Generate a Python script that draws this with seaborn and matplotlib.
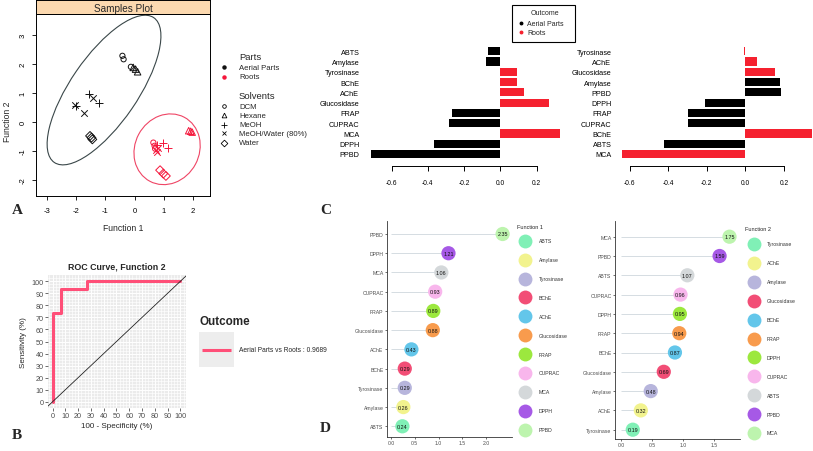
import numpy as np
import pandas as pd
import matplotlib
matplotlib.use("Agg")
import matplotlib.pyplot as plt
import seaborn as sns
from matplotlib.patches import Ellipse, Rectangle

sns.set_theme(style="white")
plt.rcParams['font.family'] = ['Liberation Sans', 'DejaVu Sans']

# ---------------- data ----------------
# Panel A: samples plot
a_parts = ['Aerial Parts'] * 15 + ['Roots'] * 15
a_solvents = (['DCM'] * 3 + ['Hexane'] * 3 + ['MeOH'] * 3 +
              ['MeOH/Water (80%)'] * 3 + ['Water'] * 3) * 2
a_f1 = [-0.42, -0.38, -0.13, -0.05, 0.03, 0.10, -1.56, -1.21, -2.00, -2.03, -1.75, -1.43, -1.53, -1.48, -1.45,
        0.64, 0.68, 0.70, 1.85, 1.92, 1.97, 0.98, 1.15, 0.76, 0.73, 0.76, 0.80, 0.87, 0.98, 1.07]
a_f2 = [2.28, 2.16, 1.90, 1.88, 1.82, 1.73, 0.97, 0.66, 0.55, 0.60, 0.30, 0.83, -0.48, -0.54, -0.60,
        -0.71, -0.82, -0.92, -0.30, -0.32, -0.35, -0.73, -0.88, -0.80, -0.95, -1.05, -0.90, -1.66, -1.78, -1.86]
a_solvent_order = ['DCM', 'Hexane', 'MeOH', 'MeOH/Water (80%)', 'Water']

# Panel B: ROC curve
roc_fpr = [0, 0, 6.7, 6.7, 26.7, 26.7, 100]
roc_tpr = [0, 73.3, 73.3, 93.3, 93.3, 100, 100]
roc_label = 'Aerial Parts vs Roots : 0.9689'

# Panel C: coefficients
c1_cats = ['ABTS', 'Amylase', 'Tyrosinase', 'BChE', 'AChE', 'Glucosidase', 'FRAP', 'CUPRAC', 'MCA', 'DPPH', 'PPBD']
c1_vals = [-0.070, -0.079, 0.092, 0.092, 0.133, 0.270, -0.269, -0.282, 0.330, -0.366, -0.713]
c1_out = ['Aerial Parts', 'Aerial Parts', 'Roots', 'Roots', 'Roots', 'Roots',
          'Aerial Parts', 'Aerial Parts', 'Roots', 'Aerial Parts', 'Aerial Parts']
c2_cats = ['Tyrosinase', 'AChE', 'Glucosidase', 'Amylase', 'PPBD', 'DPPH', 'FRAP', 'CUPRAC', 'BChE', 'ABTS', 'MCA']
c2_vals = [-0.007, 0.062, 0.154, 0.180, 0.183, -0.211, -0.296, -0.296, 0.344, -0.420, -0.638]
c2_out = ['Roots', 'Roots', 'Roots', 'Aerial Parts', 'Aerial Parts', 'Aerial Parts',
          'Aerial Parts', 'Aerial Parts', 'Roots', 'Aerial Parts', 'Roots']

# Panel D: importance
d1_cats = ['PPBD', 'DPPH', 'MCA', 'CUPRAC', 'FRAP', 'Glucosidase', 'AChE', 'BChE', 'Tyrosinase', 'Amylase', 'ABTS']
d1_vals = [2.35, 1.21, 1.06, 0.93, 0.89, 0.88, 0.43, 0.29, 0.29, 0.26, 0.24]
d1_labels = ['2.35', '1.21', '1.06', '0.93', '0.89', '0.88', '0.43', '0.29', '0.29', '0.26', '0.24']
d2_cats = ['MCA', 'PPBD', 'ABTS', 'CUPRAC', 'DPPH', 'FRAP', 'BChE', 'Glucosidase', 'Amylase', 'AChE', 'Tyrosinase']
d2_vals = [1.75, 1.59, 1.07, 0.96, 0.95, 0.94, 0.87, 0.69, 0.48, 0.32, 0.19]
d2_labels = ['1.75', '1.59', '1.07', '0.96', '0.95', '0.94', '0.87', '0.69', '0.48', '0.32', '0.19']
rank_colors = ['#80F0B6', '#F2F38E', '#B7B5DC', '#F24E76', '#63C6EA', '#F89B4D',
               '#9CE83E', '#F8B6EC', '#D4D8DA', '#A659E6', '#BDF4AE']

# ---------------- figure ----------------
W, H = 813, 452
fig = plt.figure(figsize=(W / 100, H / 100), dpi=100)
fig.patch.set_facecolor('white')


def add_ax(l, t, r, b, **kw):
    return fig.add_axes([l / W, 1 - b / H, (r - l) / W, (b - t) / H], **kw)


BLACK = '#000000'
RED = '#F5212F'
PART_COL = {'Aerial Parts': '#111111', 'Roots': '#F5163B'}
MARK = {'DCM': 'o', 'Hexane': '^', 'MeOH': '+', 'MeOH/Water (80%)': 'x', 'Water': 'D'}
MSIZE = {'DCM': 14, 'Hexane': 22, 'MeOH': 30, 'MeOH/Water (80%)': 22, 'Water': 20}

# ---- Panel A ----
dfa = pd.DataFrame({'f1': a_f1, 'f2': a_f2, 'part': a_parts, 'solv': a_solvents})
axA = add_ax(36, 15, 210, 197)
axA.set_facecolor('white')
for (p, s), g in dfa.groupby(['part', 'solv']):
    c = PART_COL[p]
    sns.scatterplot(data=g, x='f1', y='f2', marker=MARK[s], s=MSIZE[s], ax=axA, color=c, legend=False)
    coll = axA.collections[-1]
    coll.set_edgecolor(c)
    if MARK[s] in ('o', '^', 'D'):
        coll.set_facecolor('none')
    else:
        coll.set_facecolor(c)
    coll.set_linewidth(0.7)
axA.add_patch(Ellipse((-1.05, 1.1), width=2 * 3.02, height=2 * 1.15, angle=55.7,
                      fill=False, edgecolor='#3A4749', lw=0.8))
axA.add_patch(Ellipse((1.11, -0.94), width=2 * 1.25, height=2 * 1.1, angle=62,
                      fill=False, edgecolor='#EF4565', lw=0.8))
axA.set_xlim(-3.38, 2.58)
axA.set_ylim(-2.55, 3.72)
axA.set_xticks([-3, -2, -1, 0, 1, 2])
axA.set_yticks([-2, -1, 0, 1, 2, 3])
axA.set_xticklabels(['-3', '-2', '-1', '0', '1', '2'])
axA.set_yticklabels(['-2', '-1', '0', '1', '2', '3'], rotation=90, va='center')
axA.tick_params(axis='both', direction='out', length=3, width=0.6, labelsize=5.5, colors='black')
axA.tick_params(axis='x', pad=5)
axA.tick_params(axis='y', pad=4)
axA.xaxis.set_ticks_position('bottom')
axA.yaxis.set_ticks_position('left')
for sp in axA.spines.values():
    sp.set_color('black'); sp.set_linewidth(0.7)
axA.set_xlabel('')
axA.set_ylabel('')

stripA = add_ax(36, 1, 210, 15)
stripA.set_facecolor('#FCD9B0')
stripA.set_xticks([]); stripA.set_yticks([])
for sp in stripA.spines.values():
    sp.set_color('black'); sp.set_linewidth(0.7)
stripA.text(0.5, 0.45, 'Samples Plot', ha='center', va='center', fontsize=7.2, transform=stripA.transAxes)

# ---- Panel B ----
axB = add_ax(48, 276, 186, 409)
axB.set_facecolor('#EBEBEB')
sns.lineplot(x=roc_fpr, y=roc_tpr, sort=False, estimator=None, ax=axB, color='#FF4F78', lw=2.2)
axB.axline((0, 0), (100, 100), color='#222222', lw=0.6)
axB.set_xlim(-3.6, 104.4)
axB.set_ylim(-5.2, 105.2)
ticks10 = list(range(0, 101, 10))
axB.set_xticks(ticks10)
axB.set_yticks(ticks10)
axB.set_xticks(np.arange(-2.5, 105, 2.5), minor=True)
axB.set_yticks(np.arange(-5, 105, 2.5), minor=True)
axB.grid(True, which='major', color='white', lw=0.7)
axB.grid(True, which='minor', color='white', lw=0.45)
axB.tick_params(axis='both', which='major', length=2, width=0.5, color='#333333',
                labelsize=5.2, labelcolor='#4D4D4D', pad=1, direction='out')
axB.tick_params(axis='both', which='minor', length=0)
axB.xaxis.set_ticks_position('bottom')
axB.yaxis.set_ticks_position('left')
for sp in axB.spines.values():
    sp.set_visible(False)
axB.set_xlabel('')
axB.set_ylabel('')


# ---- Panel C ----
def bar_panel(l, r, cats, vals, outs, x0px, ppu):
    ax = add_ax(l, 40, r, 167)
    df = pd.DataFrame({'cat': cats, 'val': vals, 'out': outs})
    sns.barplot(data=df, x='val', y='cat', hue='out', order=cats, orient='h', dodge=False,
                palette={'Aerial Parts': BLACK, 'Roots': RED}, width=0.8, legend=False, ax=ax,
                edgecolor='none', saturation=1)
    ax.set_xlim((l - x0px) / ppu, (r - x0px) / ppu)
    ax.set_ylim(11.17, -1.2)
    for s in ['top', 'right', 'left']:
        ax.spines[s].set_visible(False)
    ax.spines['bottom'].set_bounds(-0.6, 0.2)
    ax.spines['bottom'].set_color('black')
    ax.spines['bottom'].set_linewidth(0.7)
    ax.set_xticks([-0.6, -0.4, -0.2, 0.0, 0.2])
    ax.set_xticklabels(['-0.6', '-0.4', '-0.2', '0.0', '0.2'])
    ax.tick_params(axis='x', direction='out', length=3.6, width=0.7, labelsize=4.8, pad=6, colors='black')
    ax.tick_params(axis='y', length=0, labelsize=5.2, pad=4, colors='black')
    ax.xaxis.set_ticks_position('bottom')
    ax.set_xlabel('')
    ax.set_ylabel('')
    ax.patch.set_alpha(0)
    return ax


axC1 = bar_panel(365, 562, c1_cats, c1_vals, c1_out, 500.3, 181.1)
axC2 = bar_panel(617, 813, c2_cats, c2_vals, c2_out, 745.3, 192.8)


# ---- Panel D ----
def lolli_panel(l, t, r, b, cats, vals, labels, x0px, ppu, y0px, ypu, xticks):
    ax = add_ax(l, t, r, b)
    n = len(cats)
    pos = np.arange(n)
    df = pd.DataFrame({'cat': cats, 'val': vals, 'pos': pos})
    # ascending rank (ties: lower row on the chart first) -> color
    order = df.sort_values(['val', 'pos'], ascending=[True, False]).index
    df.loc[order, 'rank'] = np.arange(1, n + 1)
    df['rank'] = df['rank'].astype(int)
    pal = {c: rank_colors[k - 1] for c, k in zip(df['cat'], df['rank'])}
    ax.hlines(df['pos'], 0, df['val'], color='#D5DCE2', lw=0.7, zorder=1)
    sns.scatterplot(data=df, x='val', y='pos', hue='cat', palette=pal, s=105, ax=ax,
                    legend=False, edgecolor='none', zorder=3)
    for v, p, lab in zip(df['val'], df['pos'], labels):
        ax.text(v, p, lab, ha='center', va='center', fontsize=3.9, color='#111111', zorder=4)
    ax.set_xlim((l - x0px) / ppu, (r - x0px) / ppu)
    ax.set_ylim(n - 1 + (b - (y0px + (n - 1) * ypu)) / ypu, (t - y0px) / ypu)
    ax.set_yticks(pos)
    ax.set_yticklabels(cats)
    ax.set_xticks(xticks)
    ax.set_xticklabels(['%.1f' % v for v in xticks])
    for s in ['top', 'right']:
        ax.spines[s].set_visible(False)
    for s in ['left', 'bottom']:
        ax.spines[s].set_color('#333333'); ax.spines[s].set_linewidth(0.6)
    ax.tick_params(axis='both', direction='out', length=1.5, width=0.5, color='#333333',
                   labelsize=3.7, labelcolor='#4D4D4D', pad=1)
    ax.xaxis.set_ticks_position('bottom')
    ax.yaxis.set_ticks_position('left')
    ax.set_xlabel('')
    ax.set_ylabel('')
    ax.patch.set_alpha(0)
    return ax, df


axD1, dfd1 = lolli_panel(387, 222, 512, 438, d1_cats, d1_vals, d1_labels, 391, 47.5, 235, 19.23,
                         [0.0, 0.5, 1.0, 1.5, 2.0])
axD2, dfd2 = lolli_panel(615, 222, 740, 440, d2_cats, d2_vals, d2_labels, 621, 62.0, 237.7, 19.3,
                         [0.0, 0.5, 1.0, 1.5])

# ---------------- overlay (legends, letters, labels) ----------------
ov = fig.add_axes([0, 0, 1, 1], zorder=10)
ov.set_xlim(0, W)
ov.set_ylim(H, 0)
ov.axis('off')
ov.patch.set_alpha(0)

# A labels
ov.text(123, 229, 'Function 1', ha='center', va='center', fontsize=6.2)
ov.text(8, 122, 'Function 2', ha='center', va='center', fontsize=6.2, rotation=90)
# A legend
ov.text(239, 57.7, 'Parts', ha='left', va='center', fontsize=6.8)
ov.plot([224], [68], marker='o', ms=2.2, color=PART_COL['Aerial Parts'], ls='none')
ov.text(239, 68, 'Aerial Parts', ha='left', va='center', fontsize=5.6)
ov.plot([224], [77.7], marker='o', ms=2.2, color=PART_COL['Roots'], ls='none')
ov.text(239, 77.7, 'Roots', ha='left', va='center', fontsize=5.6)
ov.text(239, 96.7, 'Solvents', ha='left', va='center', fontsize=6.8)
leg_y = [107.3, 116.3, 125.7, 134.3, 144]
leg_ms = {'DCM': 2.6, 'Hexane': 3.4, 'MeOH': 4.2, 'MeOH/Water (80%)': 3.4, 'Water': 3.4}
for s, yy in zip(a_solvent_order, leg_y):
    filled = MARK[s] in ('+', 'x')
    ov.plot([224], [yy], marker=MARK[s], ms=leg_ms[s], ls='none', mec='black',
            mfc='black' if filled else 'none', mew=0.6)
    ov.text(239, yy, s, ha='left', va='center', fontsize=5.6)

# B title / labels / legend
ov.text(117, 266.7, 'ROC Curve, Function 2', ha='center', va='center', fontsize=6.4, fontweight='bold')
ov.text(23.3, 342.5, 'Sensitivity (%)', ha='center', va='center', fontsize=5.8, rotation=90)
ov.text(117, 426.7, '100 - Specificity (%)', ha='center', va='center', fontsize=5.8)
ov.text(199, 322.3, 'Outcome', ha='left', va='center', fontsize=8.4, fontweight='bold')
ov.add_patch(Rectangle((199, 332.7), 35, 35, facecolor='#EDEDED', edgecolor='none'))
ov.plot([202.3, 230.7], [351, 351], color='#FF4F78', lw=2.2, solid_capstyle='butt')
ov.text(239.3, 351, roc_label, ha='left', va='center', fontsize=4.8)

# C legend
ov.add_patch(Rectangle((512.3, 6.3), 62.5, 36.7, facecolor='white', edgecolor='black', lw=0.8))
ov.text(545, 13.3, 'Outcome', ha='center', va='center', fontsize=5.0)
ov.plot([520.7], [24], marker='o', ms=1.8, color=BLACK, ls='none')
ov.text(527, 24, 'Aerial Parts', ha='left', va='center', fontsize=5.0)
ov.plot([520.7], [33.3], marker='o', ms=1.8, color=RED, ls='none')
ov.text(527, 33.3, 'Roots', ha='left', va='center', fontsize=5.0)


# D legends
def d_legend(df, x_title, y_title, x_c, y_first, x_txt, title):
    ov.text(x_title, y_title, title, ha='left', va='center', fontsize=4.0, color='#222222')
    dfs = df.sort_values('rank')
    for i, (c, k) in enumerate(zip(dfs['cat'], dfs['rank'])):
        yy = y_first + i * 18.9
        ov.plot([x_c], [yy], marker='o', ms=10, mec='none', mfc=rank_colors[int(k) - 1], ls='none')
        ov.text(x_txt, yy, c, ha='left', va='center', fontsize=3.7, color='#333333')


d_legend(dfd1, 517, 227.5, 525, 241.7, 539, 'Function 1')
d_legend(dfd2, 745, 230, 754, 245, 767, 'Function 2')

# panel letters
for letter, (x, y) in {'A': (17, 211), 'B': (17, 436), 'C': (326, 211), 'D': (325, 429)}.items():
    ov.text(x, y, letter, ha='center', va='center', fontsize=11, fontweight='bold',
            family=['Liberation Serif', 'DejaVu Serif'])

fig.savefig('out.png', dpi=100, facecolor='white')
